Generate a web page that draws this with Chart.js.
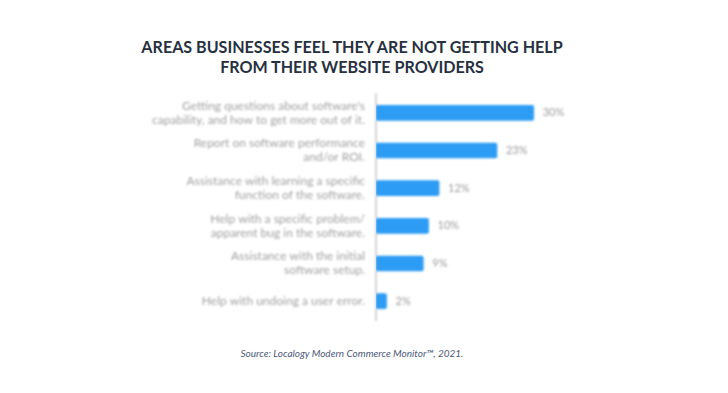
<!DOCTYPE html>
<html>
<head>
<meta charset="utf-8">
<script src="https://cdn.jsdelivr.net/npm/chart.js@4"></script>
<style>
  body { margin: 0; background: #fff; }
  #wrap { position: relative; width: 728px; height: 393px; overflow: hidden; }
  #title {
    position: absolute; top: 37px; left: -12px; width: 728px;
    text-align: center; font-family: Lato, sans-serif; font-weight: bold;
    font-size: 16.1px; line-height: 20px; color: #27303f;
  }
  #chartBox { position: absolute; top: 80px; left: 0; width: 728px; height: 260px; }
  #source {
    position: absolute; top: 347px; left: -12px; width: 728px;
    text-align: center; font-family: Lato, sans-serif; font-style: italic;
    font-size: 10px; color: #4b5a78;
  }
</style>
</head>
<body>
<div id="wrap">
  <div id="title">AREAS BUSINESSES FEEL THEY ARE NOT GETTING HELP<br>FROM THEIR WEBSITE PROVIDERS</div>
  <div id="chartBox"><canvas id="myChart" width="728" height="260"></canvas></div>
  <div id="source">Source: Localogy Modern Commerce Monitor™, 2021.</div>
</div>
<script>
// categorias (dos lineas cada una) y porcentajes
const categorias = [
  ["Getting questions about software's", "capability, and how to get more out of it."],
  ["Report on software performance", "and/or ROI."],
  ["Assistance with learning a specific", "function of the software."],
  ["Help with a specific problem/", "apparent bug in the software."],
  ["Assistance with the initial", "software setup."],
  ["Help with undoing a user error."]
];
const porcentajes = [30, 23, 12, 10, 9, 2];

// dibuja el % al final de cada barra
const etiquetasValor = {
  id: 'etiquetasValor',
  afterDatasetsDraw(chart) {
    const ctx = chart.ctx;
    const meta = chart.getDatasetMeta(0);
    ctx.save();
    ctx.font = '11px Lato, sans-serif';
    ctx.fillStyle = '#9a9a9a';
    ctx.textBaseline = 'middle';
    meta.data.forEach((bar, i) => {
      ctx.fillText(porcentajes[i] + '%', bar.x + 9, bar.y);
    });
    ctx.restore();
  }
};

// la imagen original esta desenfocada en la zona del grafico
const desenfoque = {
  id: 'desenfoque',
  beforeDraw(chart) { chart.ctx.save(); chart.ctx.filter = 'blur(1.3px)'; },
  afterDraw(chart) { chart.ctx.restore(); }
};

const ctx = document.getElementById('myChart').getContext('2d');
const myChart = new Chart(ctx, {
  type: 'bar',
  data: {
    labels: categorias,
    datasets: [{
      data: porcentajes,
      backgroundColor: '#2d9cf4',
      barThickness: 15,
      borderRadius: 2,
      borderSkipped: false
    }]
  },
  options: {
    indexAxis: 'y',
    responsive: false,
    animation: false,
    layout: { padding: { top: 14, bottom: 20, left: 0, right: 168 } },
    scales: {
      x: {
        min: 0,
        max: 35,
        display: false
      },
      y: {
        afterFit: scale => {
          scale.width = 376;
          scale.paddingTop = 0;
          scale.paddingBottom = 0;
        },
        grid: { display: false, drawTicks: false },
        border: { display: true, color: '#d4d4d4', width: 2 },
        ticks: {
          color: '#a0a0a0',
          font: { family: 'Lato, sans-serif', size: 12, lineHeight: 1.17 },
          padding: 11
        }
      }
    },
    plugins: {
      legend: { display: false },
      tooltip: { enabled: false }
    }
  },
  plugins: [desenfoque, etiquetasValor]
});
</script>
</body>
</html>
